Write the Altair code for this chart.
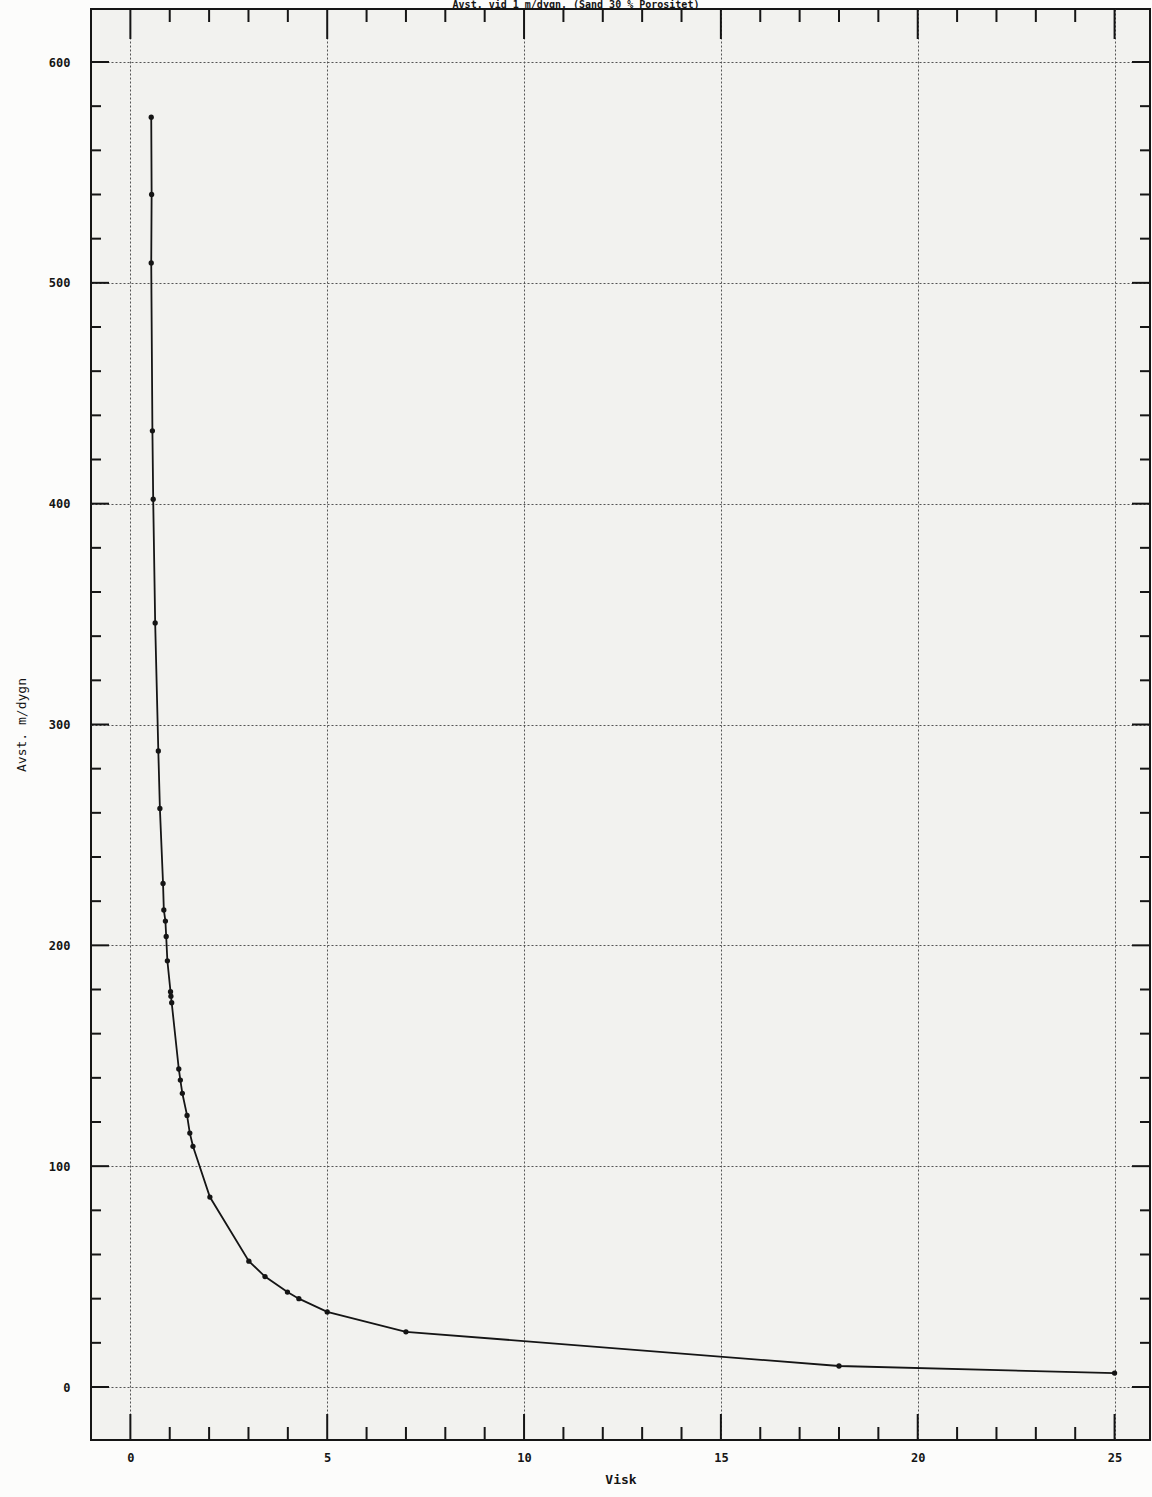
import altair as alt
import pandas as pd

# ---- data ----
visk = [0.53, 0.54, 0.53, 0.56, 0.58, 0.63, 0.71, 0.75, 0.83, 0.85, 0.89, 0.91, 0.94,
        1.02, 1.03, 1.05, 1.23, 1.27, 1.32, 1.44, 1.51, 1.59, 2.02, 3.01, 3.42, 3.99,
        4.28, 5.0, 7.0, 18.0, 25.0]
avst = [575, 540, 509, 433, 402, 346, 288, 262, 228, 216, 211, 204, 193,
        179, 177, 174, 144, 139, 133, 123, 115, 109, 86, 57, 50, 43,
        40, 34, 25, 9.5, 6.3]

x_labels = [0, 5, 10, 15, 20, 25]
y_labels = [0, 100, 200, 300, 400, 500, 600]
x_ticks = list(range(0, 26))
y_ticks = list(range(0, 601, 20))

title_text = "Avst. vid 1 m/dygn. (Sand 30 % Porositet)"

W, H = 1059, 1431
FONT = "DejaVu Sans Mono"
INK = "#151515"

df = pd.DataFrame({"i": list(range(len(visk))), "Visk": visk, "Avst": avst})
xt = pd.DataFrame({"v": x_ticks, "major": [v % 5 == 0 for v in x_ticks]})
yt = pd.DataFrame({"v": y_ticks, "major": [v % 100 == 0 for v in y_ticks]})

xscale = alt.Scale(domain=[-1, 25.9], nice=False, zero=False)
yscale = alt.Scale(domain=[-24, 624], nice=False, zero=False)

xaxis = alt.Axis(values=x_labels, format="d", grid=True, gridDash=[2, 2], gridColor="#555",
                 gridWidth=1, ticks=False, domain=False, labelPadding=12,
                 labelFont=FONT, labelFontSize=12, labelFontWeight="bold", labelColor=INK,
                 title="Visk", titleFont=FONT, titleFontSize=13, titleFontWeight="bold",
                 titleColor=INK, titlePadding=10)
yaxis = alt.Axis(values=y_labels, format="d", grid=True, gridDash=[2, 2], gridColor="#555",
                 gridWidth=1, ticks=False, domain=False, labelPadding=21,
                 labelFont=FONT, labelFontSize=12, labelFontWeight="bold", labelColor=INK,
                 title="Avst. m/dygn", titleFont=FONT, titleFontSize=13, titleFontWeight="normal",
                 titleColor=INK, titlePadding=20)

base = alt.Chart(df)

line = base.mark_line(color=INK, strokeWidth=1.8).encode(
    x=alt.X("Visk:Q", scale=xscale, axis=xaxis),
    y=alt.Y("Avst:Q", scale=yscale, axis=yaxis),
    order="i:Q",
)
pts = base.mark_point(filled=True, color=INK, size=28, opacity=1).encode(
    x=alt.X("Visk:Q", scale=xscale),
    y=alt.Y("Avst:Q", scale=yscale),
)

xt_major = xt[xt.major]
xt_minor = xt[~xt.major]
yt_major = yt[yt.major]
yt_minor = yt[~yt.major]

def xticks(data, y1, y2):
    return alt.Chart(data).mark_rule(color=INK, strokeWidth=2).encode(
        x=alt.X("v:Q", scale=xscale), y=alt.value(y1), y2=alt.value(y2))

def yticks(data, x1, x2):
    return alt.Chart(data).mark_rule(color=INK, strokeWidth=2).encode(
        y=alt.Y("v:Q", scale=yscale), x=alt.value(x1), x2=alt.value(x2))

tick_layers = [
    xticks(xt_major, H, H - 26), xticks(xt_minor, H, H - 13),
    xticks(xt_major, 0, 30), xticks(xt_minor, 0, 13),
    yticks(yt_major, 0, 18), yticks(yt_minor, 0, 10),
    yticks(yt_major, W, W - 18), yticks(yt_minor, W, W - 10),
]

title = alt.Chart(pd.DataFrame({"t": [title_text]})).mark_text(
    font=FONT, fontSize=10, fontWeight="bold", color=INK, baseline="alphabetic", align="center"
).encode(text="t:N", x=alt.value(485), y=alt.value(-1))

chart = alt.layer(line, pts, *tick_layers, title).properties(
    width=W, height=H,
    autosize=alt.AutoSizeParams(type="none"),
    padding={"left": 91, "top": 9, "right": 2, "bottom": 57},
    background="#fcfcfb",
).configure_view(stroke=INK, strokeWidth=2, fill="#f2f2ef")

chart.save("out.html", embed_options={"renderer": "svg", "actions": False})
